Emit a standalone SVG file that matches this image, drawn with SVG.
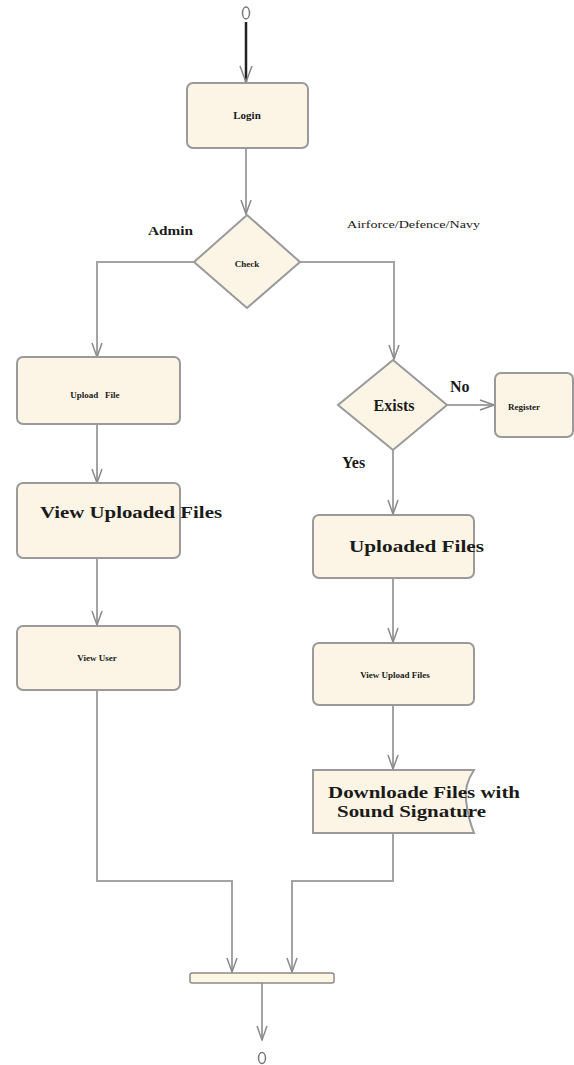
<svg xmlns="http://www.w3.org/2000/svg" width="574" height="1065" viewBox="0 0 574 1065">
<style>
.box{fill:#fcf4e4;stroke:#9a9a9a;stroke-width:2}
.ln{fill:none;stroke:#a3a3a3;stroke-width:2}
.t{font-family:"Liberation Serif","DejaVu Serif",serif;font-weight:bold;fill:#1a1a1a}
.s{font-size:9px}
.b{font-size:16px}
.m{font-size:11px}
</style>
<defs>
<marker id="arr" viewBox="0 0 16 12" refX="15" refY="6" markerWidth="16" markerHeight="12" markerUnits="userSpaceOnUse" orient="auto">
<path d="M1,1 L15,6 L1,11" fill="none" stroke="#8a8a8a" stroke-width="1.5"/>
</marker>
</defs>
<rect width="574" height="1065" fill="#ffffff"/>
<g id="connectors">
<line x1="246" y1="22" x2="246" y2="83" stroke="#222" stroke-width="2.5"/>
<path d="M240,66 L246,82 L252,66" fill="none" stroke="#8a8a8a" stroke-width="1.5"/>
<line class="ln" x1="246" y1="148" x2="246" y2="214" marker-end="url(#arr)"/>
<polyline class="ln" points="194,262 97,262 97,357" marker-end="url(#arr)"/>
<polyline class="ln" points="300,262 394,262 394,359" marker-end="url(#arr)"/>
<line class="ln" x1="97" y1="424" x2="97" y2="483" marker-end="url(#arr)"/>
<line class="ln" x1="97" y1="558" x2="97" y2="625" marker-end="url(#arr)"/>
<polyline class="ln" points="97,690 97,881 232,881 232,972" marker-end="url(#arr)"/>
<line class="ln" x1="447" y1="405" x2="494" y2="405" marker-end="url(#arr)"/>
<line class="ln" x1="393" y1="450" x2="393" y2="514" marker-end="url(#arr)"/>
<line class="ln" x1="393" y1="578" x2="393" y2="642" marker-end="url(#arr)"/>
<line class="ln" x1="393" y1="705" x2="393" y2="769" marker-end="url(#arr)"/>
<polyline class="ln" points="393,833 393,881 292,881 292,972" marker-end="url(#arr)"/>
<line class="ln" x1="262" y1="983" x2="262" y2="1040" marker-end="url(#arr)"/>
</g>
<g id="start">
<ellipse cx="246" cy="13" rx="3.5" ry="6" fill="none" stroke="#777" stroke-width="1.5"/>
</g>
<g id="login">
<rect class="box" x="187" y="83" width="121" height="65" rx="6"/>
<text class="t m" x="247" y="119" text-anchor="middle">Login</text>
</g>
<g id="check">
<polygon class="box" points="247,215 300,262 247,308 194,262"/>
<text class="t s" x="247" y="267" text-anchor="middle">Check</text>
</g>
<g id="labels">
<text class="t" x="148" y="235" font-size="12" textLength="45" lengthAdjust="spacingAndGlyphs">Admin</text>
<text class="t m" x="347" y="228" textLength="133" lengthAdjust="spacingAndGlyphs" style="font-weight:normal">Airforce/Defence/Navy</text>
<text class="t b" x="450" y="392" font-size="14">No</text>
<text class="t b" x="342" y="468" font-size="15">Yes</text>
</g>
<g id="upload">
<rect class="box" x="17" y="357" width="163" height="67" rx="6"/>
<text class="t s" x="95" y="398" text-anchor="middle" xml:space="preserve">Upload   File</text>
</g>
<g id="viewuploaded">
<rect class="box" x="17" y="483" width="163" height="75" rx="6"/>
<text class="t b" x="40" y="518" textLength="182" lengthAdjust="spacingAndGlyphs">View Uploaded Files</text>
</g>
<g id="viewuser">
<rect class="box" x="17" y="626" width="163" height="64" rx="6"/>
<text class="t s" x="97" y="661" text-anchor="middle">View User</text>
</g>
<g id="exists">
<polygon class="box" points="393,360 447,405 393,450 338,405"/>
<text class="t b" x="394" y="411" text-anchor="middle">Exists</text>
</g>
<g id="register">
<rect class="box" x="495" y="373" width="78" height="64" rx="6"/>
<text class="t s" x="508" y="410">Register</text>
</g>
<g id="uploadedfiles">
<rect class="box" x="313" y="515" width="161" height="63" rx="6"/>
<text class="t b" x="349" y="552" textLength="135" lengthAdjust="spacingAndGlyphs">Uploaded Files</text>
</g>
<g id="viewuploadfiles">
<rect class="box" x="313" y="643" width="161" height="62" rx="6"/>
<text class="t s" x="395" y="678" text-anchor="middle">View Upload Files</text>
</g>
<g id="download">
<path class="box" d="M313,770 L474,770 Q464,785 466,800 Q468,818 474,833 L313,833 Z"/>
<text class="t b" x="328" y="798" textLength="192" lengthAdjust="spacingAndGlyphs">Downloade Files with</text>
<text class="t b" x="337" y="817" textLength="149" lengthAdjust="spacingAndGlyphs">Sound Signature</text>
</g>
<g id="join">
<rect x="190" y="973" width="144" height="10" rx="2" fill="#fdf6e2" stroke="#8a8a8a" stroke-width="1.5"/>
</g>
<g id="end">
<ellipse cx="262" cy="1058" rx="3.5" ry="5.5" fill="none" stroke="#777" stroke-width="1.5"/>
</g>
</svg>
